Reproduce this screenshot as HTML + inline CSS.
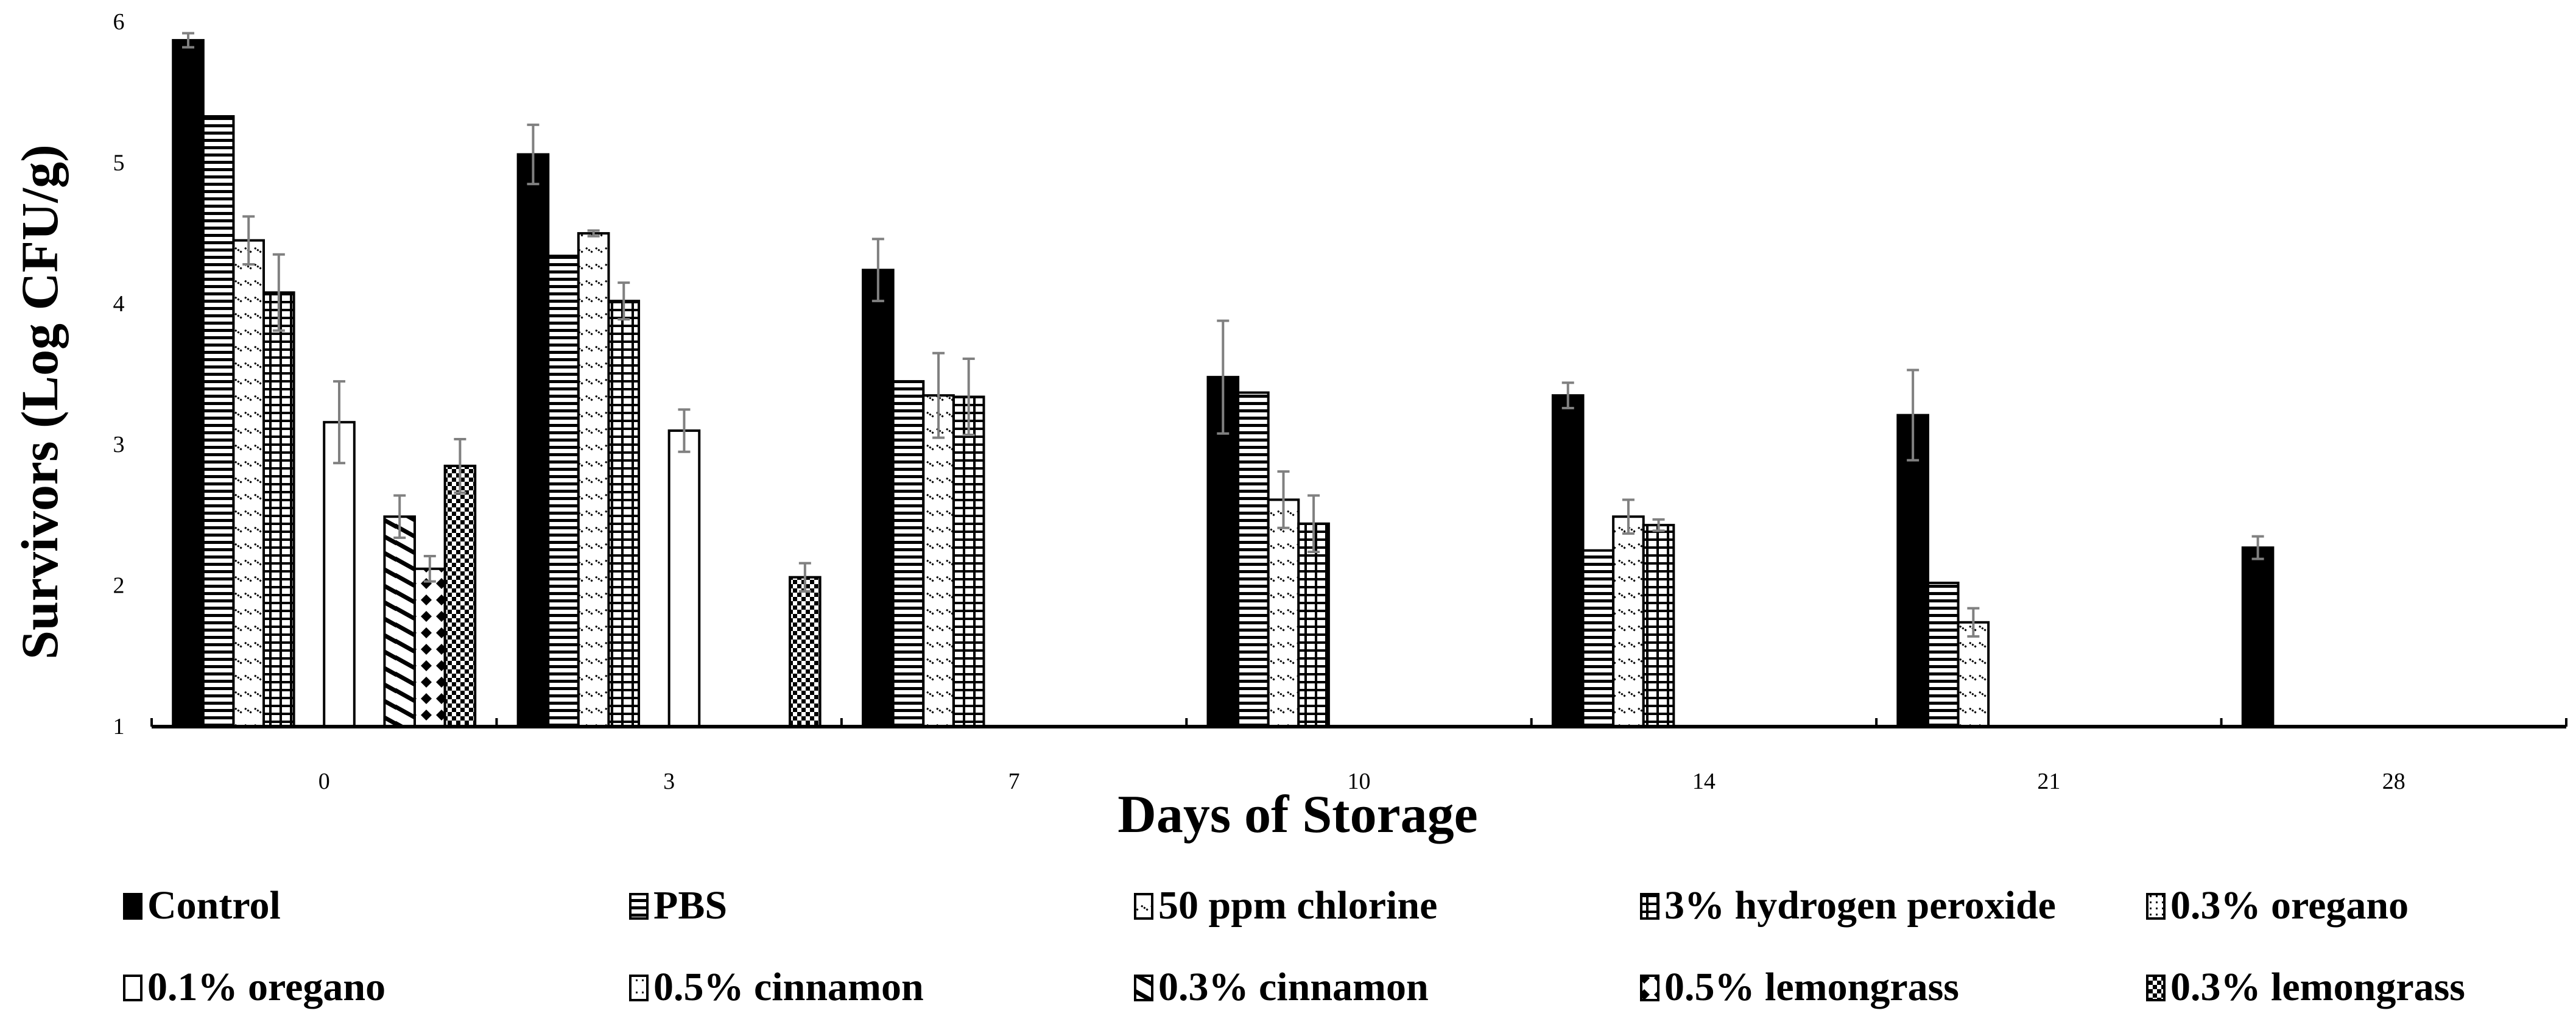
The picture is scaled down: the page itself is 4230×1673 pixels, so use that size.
<!DOCTYPE html>
<html><head><meta charset="utf-8"><style>
html,body{margin:0;padding:0;background:#fff;}
svg{display:block;font-family:"Liberation Serif",serif;}
</style></head><body>
<svg id="chart" width="4230" height="1673" viewBox="0 0 4230 1673" xmlns="http://www.w3.org/2000/svg">
<defs>
<pattern id="p1" patternUnits="userSpaceOnUse" width="12" height="12"><rect width="12" height="12" fill="#fff"/><rect y="0" width="12" height="5" fill="#000"/></pattern>
<pattern id="p2" patternUnits="userSpaceOnUse" width="48" height="27"><rect width="48" height="27" fill="#fff"/><path d="M2 2 l12 8 M18 2 l12 8 M34 2 l12 8" stroke="#000" stroke-width="3" stroke-dasharray="3 2"/></pattern>
<pattern id="p3" patternUnits="userSpaceOnUse" width="17" height="13"><rect width="17" height="13" fill="#fff"/><rect width="4" height="13" fill="#000"/><rect width="17" height="4" fill="#000"/></pattern>
<pattern id="p4" patternUnits="userSpaceOnUse" width="10" height="10"><rect width="10" height="10" fill="#fff"/><rect width="3" height="3" fill="#000"/></pattern>
<pattern id="p5" patternUnits="userSpaceOnUse" width="10" height="20"><rect width="10" height="20" fill="#fff"/><rect x="4" y="8" width="3" height="3" fill="#000"/></pattern>
<pattern id="p6" patternUnits="userSpaceOnUse" width="50" height="27"><rect width="50" height="27" fill="#fff"/><path d="M-10 -6 L60 33 M-10 21 L60 60 M-10 -33 L60 6" stroke="#000" stroke-width="7"/></pattern>
<pattern id="p7" patternUnits="userSpaceOnUse" width="50" height="27"><rect width="50" height="27" fill="#fff"/><path d="M25 4 L34 13 L25 22 L16 13Z M0 4 L9 13 L0 22Z M50 4 L41 13 L50 22Z" fill="#000"/></pattern>
<pattern id="p8" patternUnits="userSpaceOnUse" width="14" height="14"><rect width="14" height="14" fill="#fff"/><rect width="7" height="7" fill="#000"/><rect x="7" y="7" width="7" height="7" fill="#000"/></pattern>
</defs>
<g id="plot"></g>
<text transform="translate(94,660) rotate(-90)" text-anchor="middle" font-size="86" font-weight="bold">Survivors (Log CFU/g)</text>
<text x="2131" y="1366" text-anchor="middle" font-size="88" font-weight="bold">Days of Storage</text>
<g id="legend"></g>
</svg>
<script>
const categories = ["0","3","7","10","14","21","28"];
const seriesNames = ["Control","PBS","50 ppm chlorine","3% hydrogen peroxide","0.3% oregano","0.1% oregano","0.5% cinnamon","0.3% cinnamon","0.5% lemongrass","0.3% lemongrass"];
const control = [5.87,5.06,4.24,3.48,3.35,3.21,2.27];
const controlErr = [0.05,0.21,0.22,0.40,0.09,0.32,0.08];
const pbs = [5.33,4.34,3.45,3.37,2.25,2.02,null];
const pbsErr = [0,0,0,0,0,0,0];
const chlorine = [4.45,4.50,3.35,2.61,2.49,1.74,null];
const chlorineErr = [0.17,0.02,0.30,0.20,0.12,0.10,0];
const peroxide = [4.08,4.02,3.34,2.44,2.43,null,null];
const peroxideErr = [0.27,0.13,0.27,0.20,0.04,0,0];
const oregano03 = [null,null,null,null,null,null,null];
const oregano03Err = [0,0,0,0,0,0,0];
const oregano01 = [3.16,3.10,null,null,null,null,null];
const oregano01Err = [0.29,0.15,0,0,0,0,0];
const cinnamon05 = [null,null,null,null,null,null,null];
const cinnamon05Err = [0,0,0,0,0,0,0];
const cinnamon03 = [2.49,null,null,null,null,null,null];
const cinnamon03Err = [0.15,0,0,0,0,0,0];
const lemongrass05 = [2.12,null,null,null,null,null,null];
const lemongrass05Err = [0.09,0,0,0,0,0,0];
const lemongrass03 = [2.85,2.06,null,null,null,null,null];
const lemongrass03Err = [0.19,0.10,0,0,0,0,0];
const yTicks = [1,2,3,4,5,6];

const allSeries = [control,pbs,chlorine,peroxide,oregano03,oregano01,cinnamon05,cinnamon03,lemongrass05,lemongrass03];
const allErr = [controlErr,pbsErr,chlorineErr,peroxideErr,oregano03Err,oregano01Err,cinnamon05Err,cinnamon03Err,lemongrass05Err,lemongrass03Err];
const fills = ["#000","url(#p1)","url(#p2)","url(#p3)","url(#p4)","#fff","url(#p5)","url(#p6)","url(#p7)","url(#p8)"];

const NS="http://www.w3.org/2000/svg";
const X0=249,X1=4214,Y0=1193,YTOP=36;
const groupW=(X1-X0)/categories.length;
const barW=49.6, padL=(groupW-barW*10)/2;
function yScale(v){return Y0-(v-1)/(6-1)*(Y0-YTOP);}
function xBar(g,s){return X0+g*groupW+padL+s*barW;}
function mk(tag,attrs,parent){const e=document.createElementNS(NS,tag);for(const k in attrs)e.setAttribute(k,attrs[k]);parent.appendChild(e);return e;}
const plot=document.getElementById('plot');

yTicks.forEach(t=>{
  const e=mk('text',{x:195,y:yScale(t)+12,'text-anchor':'middle','font-size':38},plot);
  
  
  e.textContent=t;
});
categories.forEach((c,g)=>{
  const e=mk('text',{x:X0+(g+0.5)*groupW,y:1295,'text-anchor':'middle','font-size':38},plot);
  
  
  e.textContent=c;
});
allSeries.forEach((ser,s)=>{
  ser.forEach((v,g)=>{
    if(v==null)return;
    const x=xBar(g,s),y=yScale(v);
    const r=mk('rect',{x:x,y:y,width:barW,height:Y0-y,fill:fills[s],stroke:'#000','stroke-width':4},plot);
    
    
  });
});
allSeries.forEach((ser,s)=>{
  ser.forEach((v,g)=>{
    const err=allErr[s][g];
    if(v==null||!err)return;
    const cx=xBar(g,s)+barW/2,yt=yScale(v+err),yb=yScale(v-err);
    const eg=mk('g',{stroke:'#808080','stroke-width':4},plot);
    
    
    mk('line',{x1:cx,x2:cx,y1:yt,y2:yb},eg);
    mk('line',{x1:cx-10,x2:cx+10,y1:yt,y2:yt},eg);
    mk('line',{x1:cx-10,x2:cx+10,y1:yb,y2:yb},eg);
  });
});
const ax=mk('line',{x1:X0,x2:X1,y1:Y0,y2:Y0,stroke:'#000','stroke-width':6},plot);


for(let k=0;k<=categories.length;k++){
  const t=mk('line',{x1:X0+k*groupW,x2:X0+k*groupW,y1:Y0-14,y2:Y0,stroke:'#000','stroke-width':4},plot);
  
  
}
const leg=document.getElementById('legend');
const colX=[202,1033,1862,2693,3524],rowY=[1508,1642];
seriesNames.forEach((n,i)=>{
  const col=i%5,row=Math.floor(i/5);
  const g=mk('g',{},leg);
  
  
  mk('rect',{x:colX[col]+2,y:rowY[row]-40,width:28,height:40,fill:fills[i],stroke:'#000','stroke-width':4},g);
  const t=mk('text',{x:colX[col]+40,y:rowY[row],'font-size':66,'font-weight':'bold'},g);
  t.textContent=n;
});
</script>
</body></html>
